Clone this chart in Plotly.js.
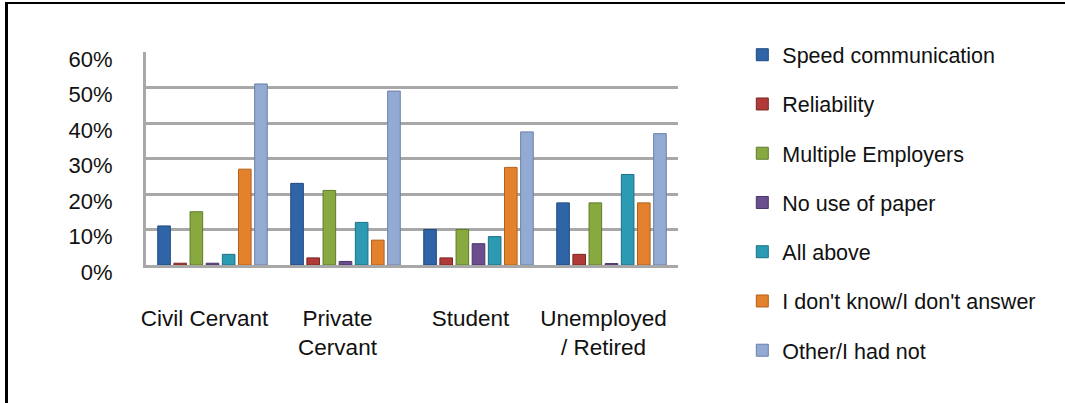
<!DOCTYPE html>
<html>
<head>
<meta charset="utf-8">
<script src="https://cdn.plot.ly/plotly-3.0.1.min.js"></script>
<style>
  html, body { margin: 0; padding: 0; background: #fff; }
  #wrap { position: relative; width: 1065px; height: 403px; overflow: hidden; }
  #frame { position: absolute; left: 5px; top: 2px; width: 1070px; height: 420px;
           border-left: 3px solid #000; border-top: 2px solid #000; box-sizing: border-box; }
  #chart { position: absolute; left: 0; top: 0; width: 1065px; height: 403px; }
</style>
</head>
<body>
<div id="wrap">
  <div id="frame"></div>
  <div id="chart"></div>
</div>
<script>
const categories = ['Civil Cervant', 'Private<br>Cervant', 'Student', 'Unemployed<br>/ Retired'];
const seriesNames = ['Speed communication', 'Reliability', 'Multiple Employers', 'No use of paper',
                     'All above', "I don't know/I don't answer", 'Other/I had not'];
const speedCommunication = [11, 23, 10, 17.5];
const reliability = [0.5, 2, 2, 3];
const multipleEmployers = [15, 21, 10, 17.5];
const noUseOfPaper = [0.5, 1, 6, 0.4];
const allAbove = [3, 12, 8, 25.5];
const dontKnow = [27, 7, 27.5, 17.5];
const otherHadNot = [51, 49, 37.5, 37];
const yTickValues = [0, 10, 20, 30, 40, 50, 60];
const yTickLabels = ['0%', '10%', '20%', '30%', '40%', '50%', '60%'];

const seriesValues = [speedCommunication, reliability, multipleEmployers, noUseOfPaper,
                      allAbove, dontKnow, otherHadNot];
const colors = ['#2F65A7', '#B03A37', '#87A93F', '#6B4E8E', '#2B9AB2', '#E4812D', '#93AAD3'];
const edge = ['#1F4A80', '#7E2624', '#5F7B2A', '#4A3566', '#1D7186', '#B0611C', '#6A80A8'];

const traces = seriesValues.map((vals, i) => ({
  type: 'bar',
  name: seriesNames[i],
  x: categories,
  y: vals,
  legendgroup: 'g' + i,
  marker: { color: colors[i], line: { color: edge[i], width: 1 } },
  hoverinfo: 'skip'
}));

const layout = {
  width: 1065, height: 403,
  margin: { l: 146, r: 387, t: 52, b: 138, pad: 0 },
  paper_bgcolor: 'rgba(0,0,0,0)',
  plot_bgcolor: 'rgba(0,0,0,0)',
  barmode: 'group',
  bargap: 0.15,
  bargroupgap: 0.22,
  font: { family: 'Liberation Sans, Arial, sans-serif', size: 21, color: '#111' },
  xaxis: {
    type: 'category',
    showgrid: false,
    showline: true, linecolor: '#a8a8a8', linewidth: 3,
    ticks: '',
    ticklabelstandoff: 31,
    ticklabelshift: -8,
    tickfont: { size: 22.5, color: '#111' }
  },
  yaxis: {
    range: [0, 60],
    tickvals: yTickValues,
    ticktext: yTickLabels,
    showgrid: true, gridcolor: '#a8a8a8', gridwidth: 3,
    zeroline: false,
    showline: true, linecolor: '#a8a8a8', linewidth: 3,
    ticks: '',
    ticklabelstandoff: 26,
    ticklabelshift: 7,
    tickfont: { size: 22, color: '#111' }
  },
  legend: {
    xref: 'container', yref: 'container',
    x: 0.697, y: 0.915, xanchor: 'left', yanchor: 'top',
    traceorder: 'grouped',
    tracegroupgap: 18.3,
    maxheight: 1,
    font: { size: 21.5, color: '#111' },
    bgcolor: 'rgba(0,0,0,0)'
  },
  showlegend: true
};

Plotly.newPlot('chart', traces, layout, { staticPlot: true, displayModeBar: false });
</script>
</body>
</html>
